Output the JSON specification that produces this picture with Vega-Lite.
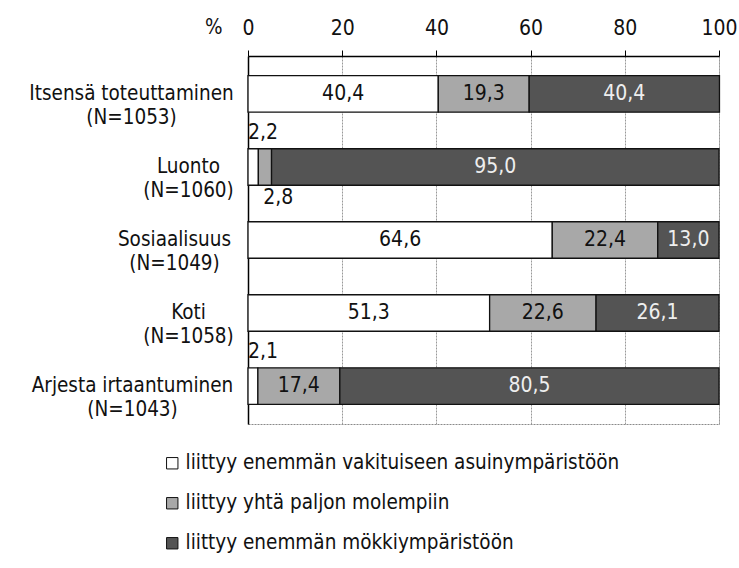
{
  "$schema": "https://vega.github.io/schema/vega-lite/v6.json",
  "width": 471,
  "height": 368,
  "autosize": {"type": "none"},
  "padding": {"left": 248, "top": 56, "right": 20, "bottom": 144},
  "background": "white",
  "config": {
    "font": "DejaVu Sans Condensed, Liberation Sans, sans-serif",
    "view": {"stroke": "#8a8a8a", "strokeWidth": 1, "strokeDash": [2, 1]},
    "locale": {"number": {"decimal": ",", "thousands": " ", "grouping": [3], "currency": ["", " €"]}}
  },
  "data": {
    "values": [
      {"item": "Itsensä toteuttaminen|(N=1053)", "cat": "liittyy enemmän vakituiseen asuinympäristöön", "order": 1, "value": 40.4},
      {"item": "Itsensä toteuttaminen|(N=1053)", "cat": "liittyy yhtä paljon molempiin", "order": 2, "value": 19.3},
      {"item": "Itsensä toteuttaminen|(N=1053)", "cat": "liittyy enemmän mökkiympäristöön", "order": 3, "value": 40.4},
      {"item": "Luonto|(N=1060)", "cat": "liittyy enemmän vakituiseen asuinympäristöön", "order": 1, "value": 2.2},
      {"item": "Luonto|(N=1060)", "cat": "liittyy yhtä paljon molempiin", "order": 2, "value": 2.8},
      {"item": "Luonto|(N=1060)", "cat": "liittyy enemmän mökkiympäristöön", "order": 3, "value": 95.0},
      {"item": "Sosiaalisuus|(N=1049)", "cat": "liittyy enemmän vakituiseen asuinympäristöön", "order": 1, "value": 64.6},
      {"item": "Sosiaalisuus|(N=1049)", "cat": "liittyy yhtä paljon molempiin", "order": 2, "value": 22.4},
      {"item": "Sosiaalisuus|(N=1049)", "cat": "liittyy enemmän mökkiympäristöön", "order": 3, "value": 13.0},
      {"item": "Koti|(N=1058)", "cat": "liittyy enemmän vakituiseen asuinympäristöön", "order": 1, "value": 51.3},
      {"item": "Koti|(N=1058)", "cat": "liittyy yhtä paljon molempiin", "order": 2, "value": 22.6},
      {"item": "Koti|(N=1058)", "cat": "liittyy enemmän mökkiympäristöön", "order": 3, "value": 26.1},
      {"item": "Arjesta irtaantuminen|(N=1043)", "cat": "liittyy enemmän vakituiseen asuinympäristöön", "order": 1, "value": 2.1},
      {"item": "Arjesta irtaantuminen|(N=1043)", "cat": "liittyy yhtä paljon molempiin", "order": 2, "value": 17.4},
      {"item": "Arjesta irtaantuminen|(N=1043)", "cat": "liittyy enemmän mökkiympäristöön", "order": 3, "value": 80.5}
    ]
  },
  "transform": [
    {"stack": "value", "groupby": ["item"], "sort": [{"field": "order", "order": "ascending"}], "as": ["v0", "v1"]}
  ],
  "encoding": {
    "y": {
      "field": "item", "type": "nominal", "sort": null,
      "scale": {"paddingInner": 0.5, "paddingOuter": 0.27},
      "axis": {
        "title": null, "ticks": false, "domainColor": "#000", "domainWidth": 1.5,
        "labelExpr": "split(datum.label, '|')",
        "labelFontSize": 20.5, "labelColor": "#111", "labelAlign": "center",
        "labelPadding": {"expr": "datum.value == 'Itsensä toteuttaminen|(N=1053)' ? 117 : datum.value == 'Arjesta irtaantuminen|(N=1043)' ? 116 : datum.value == 'Sosiaalisuus|(N=1049)' ? 74 : 60"},
        "labelLineHeight": 24, "labelLimit": 300
      }
    },
    "x": {
      "field": "v0", "type": "quantitative",
      "scale": {"domain": [0, 100], "nice": false},
      "axis": {
        "orient": "top", "values": [0, 20, 40, 60, 80, 100], "labelFlush": false,
        "title": "%", "titleFontSize": 20.5, "titleFontWeight": "normal", "titleColor": "#111",
        "titleAngle": 0, "titleAlign": "right", "titleBaseline": "middle",
        "titleX": -26, "titleY": -29,
        "labelFontSize": 21, "labelColor": "#111", "labelPadding": 12,
        "tickSize": 6, "tickColor": "#000", "domainColor": "#000", "domainWidth": 1.5,
        "gridColor": "#999", "gridWidth": 1, "gridDash": [2, 1]
      }
    }
  },
  "layer": [
    {
      "mark": {"type": "bar", "stroke": "#111", "strokeWidth": 1.3},
      "encoding": {
        "x2": {"field": "v1"},
        "color": {
          "field": "cat", "type": "nominal",
          "scale": {
            "domain": ["liittyy enemmän vakituiseen asuinympäristöön", "liittyy yhtä paljon molempiin", "liittyy enemmän mökkiympäristöön"],
            "range": ["#ffffff", "#a8a8a8", "#545454"]
          },
          "legend": {
            "title": null, "orient": "none", "legendX": -86, "legendY": 397,
            "symbolType": "square", "symbolSize": 130, "symbolStrokeColor": "#111", "symbolStrokeWidth": 1,
            "labelFontSize": 20.5, "labelColor": "#111", "labelOffset": 3, "rowPadding": 19, "labelLimit": 500
          }
        }
      }
    },
    {
      "transform": [{"filter": "datum.value >= 5"}],
      "mark": {"type": "text", "fontSize": 21, "baseline": "middle", "align": "center",
        "dx": {"expr": "(scale('x', datum.v1) - scale('x', datum.v0)) / 2"}},
      "encoding": {
        "text": {"field": "value", "type": "quantitative", "format": ".1f"},
        "color": {"condition": {"test": "datum.order === 3", "value": "#eeeeee"}, "value": "#111"}
      }
    },
    {
      "transform": [{"filter": "datum.value < 5 && datum.order === 1"}],
      "mark": {"type": "text", "fontSize": 21, "baseline": "middle", "align": "center", "dy": -34, "dx": 15, "color": "#111"},
      "encoding": {
        "text": {"field": "value", "type": "quantitative", "format": ".1f"}
      }
    },
    {
      "transform": [{"filter": "datum.value < 5 && datum.order === 2"}],
      "mark": {"type": "text", "fontSize": 21, "baseline": "middle", "align": "center", "dy": 31, "dx": 20, "color": "#111"},
      "encoding": {
        "text": {"field": "value", "type": "quantitative", "format": ".1f"}
      }
    }
  ]
}
